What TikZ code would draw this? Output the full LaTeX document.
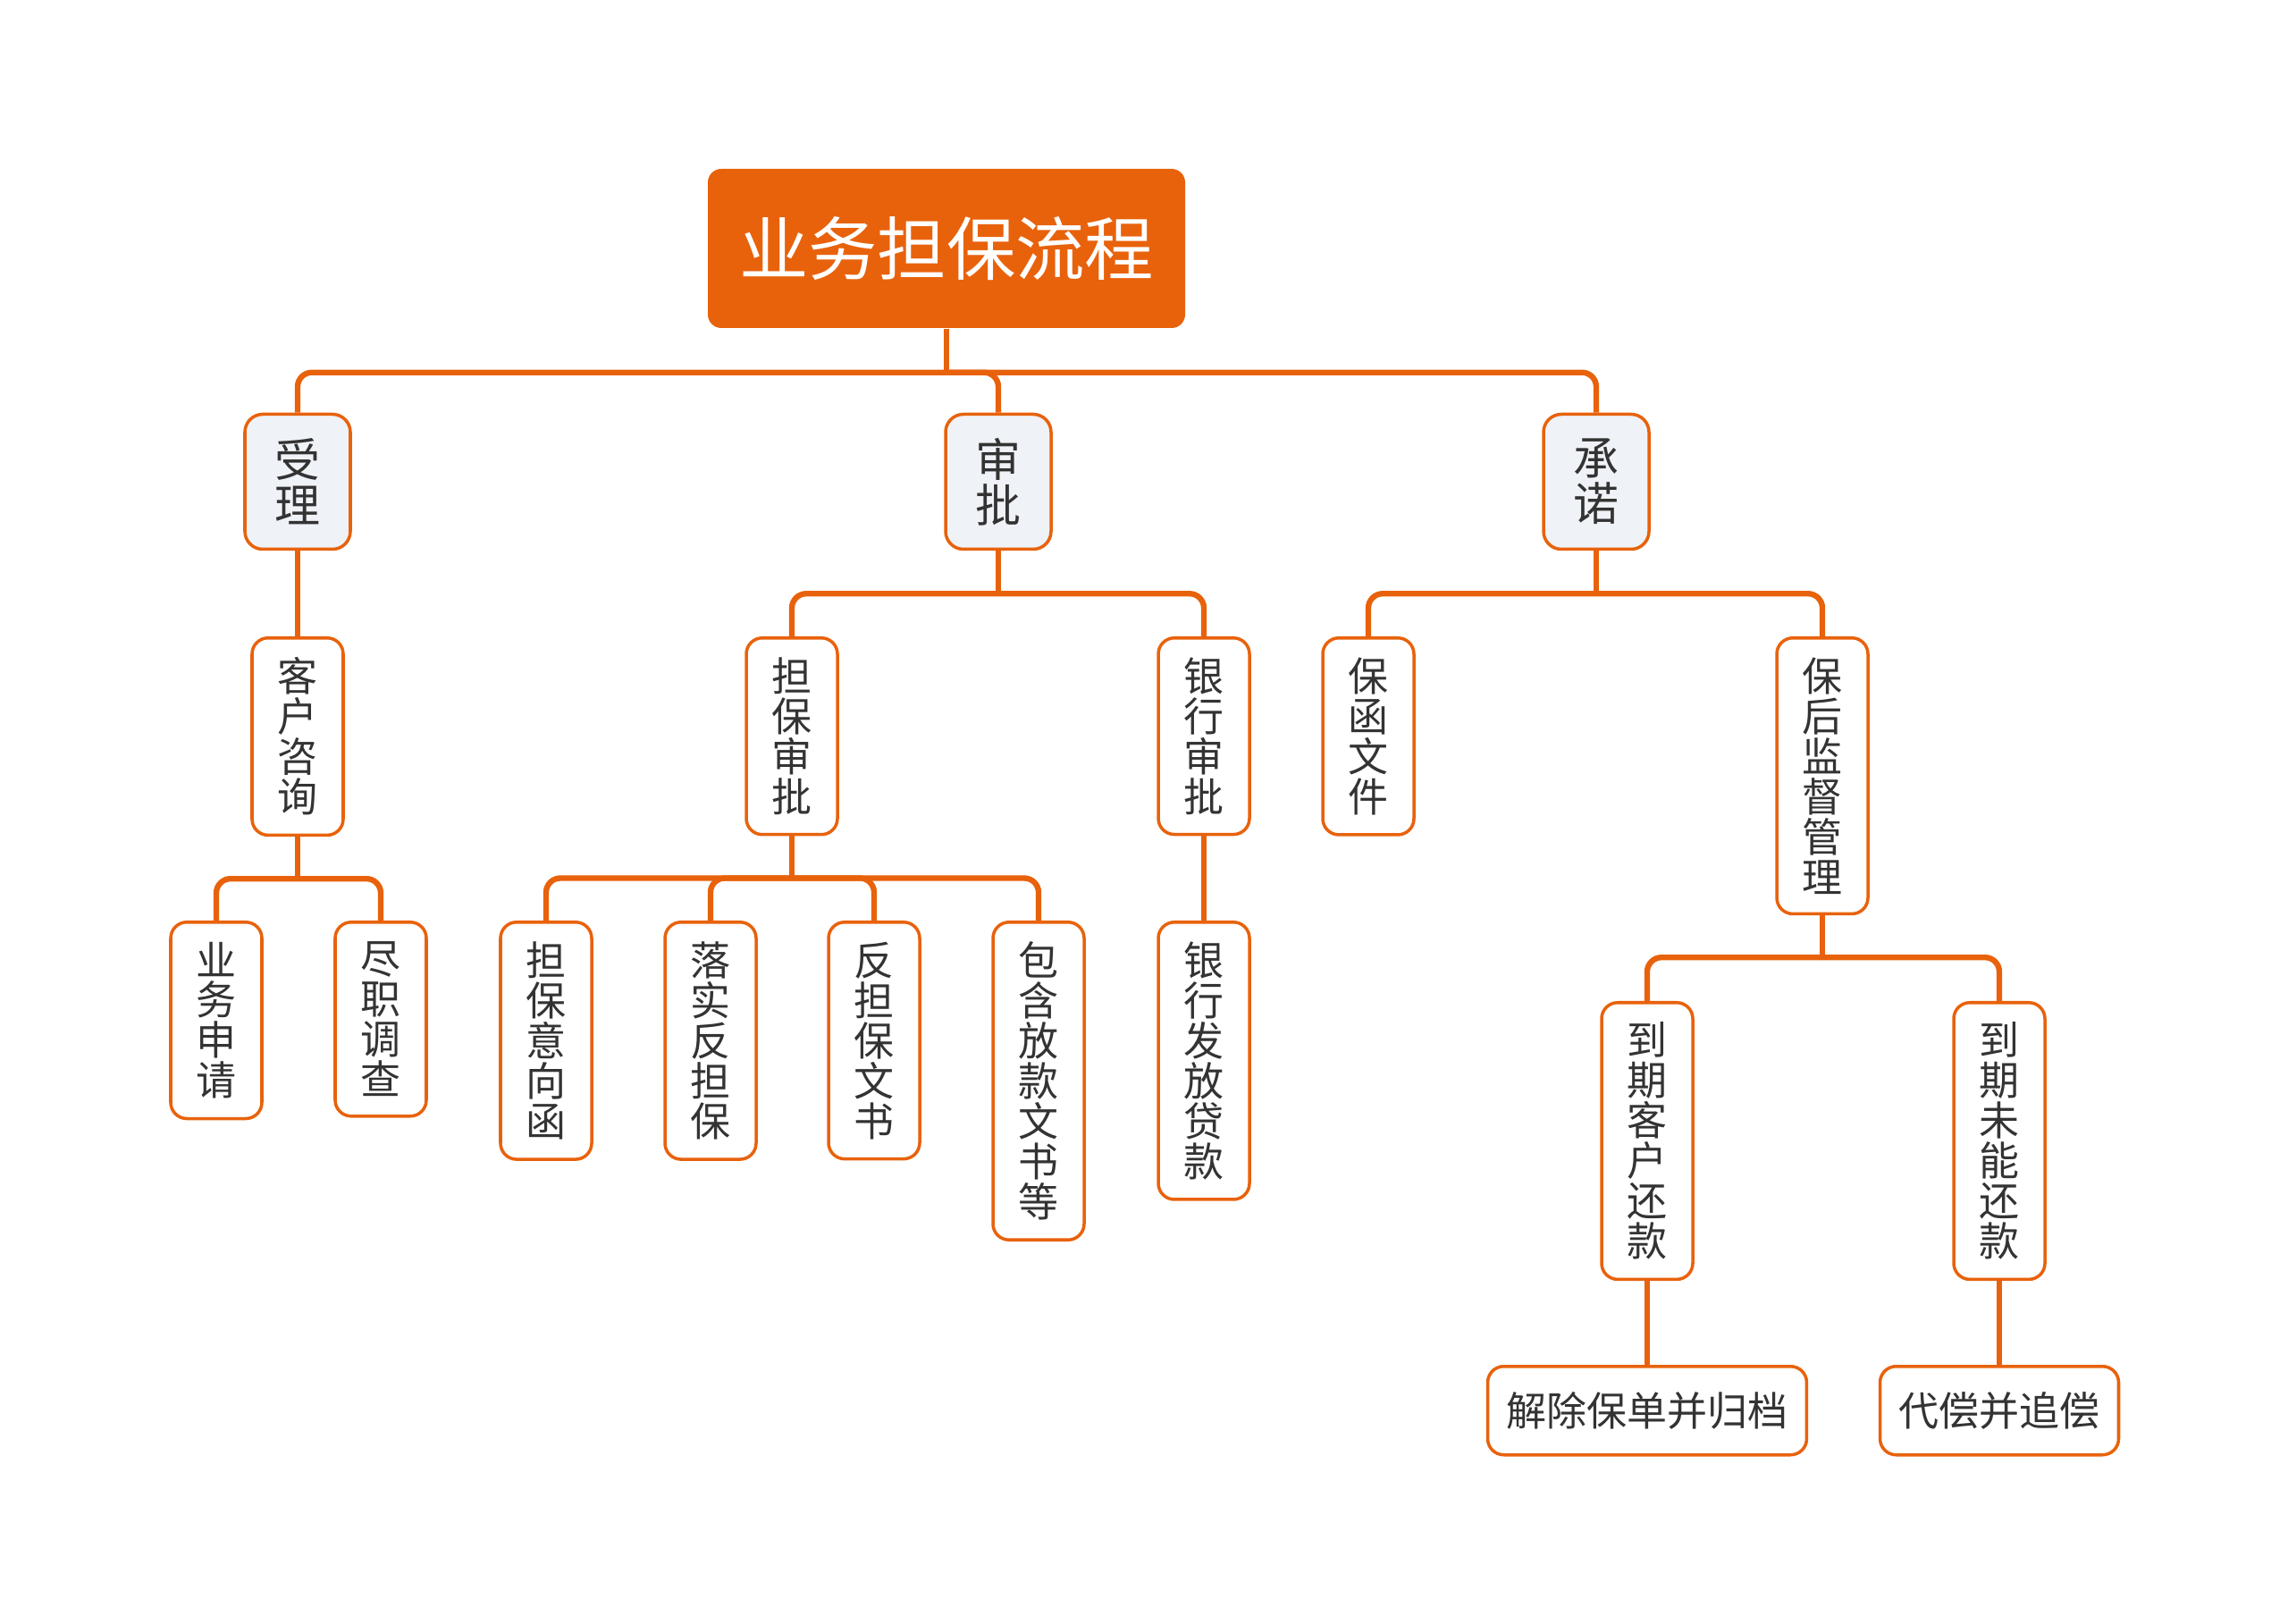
\documentclass[tikz,border=0pt]{standalone}
\usepackage{fontspec}
\usepackage{xcolor}
\usepackage{tikz}
\usetikzlibrary{positioning,calc}
\newfontfamily\cjk{Noto Sans CJK SC}
\definecolor{mmorange}{RGB}{232,98,12}
\definecolor{mmtext}{RGB}{51,51,51}
\definecolor{mmfill}{RGB}{239,242,246}

\begin{document}
\begin{tikzpicture}[
  every node/.style={font=\cjk\fontsize{12.8}{12.8}\selectfont,text=mmtext},
  topic/.style={fill=mmorange,rounded corners=0.15cm,minimum width=5.34cm,minimum height=1.78cm,text=white,font=\cjk\fontsize{22}{22}\selectfont},
  mainb/.style={draw=mmorange,fill=mmfill,line width=1pt,rounded corners=0.2cm,align=center,minimum width=1.18cm,minimum height=1.51cm,inner xsep=0pt,font=\cjk\fontsize{14.5}{14.5}\selectfont},
  sub/.style={draw=mmorange,fill=white,line width=1pt,rounded corners=0.18cm,align=center,minimum width=1.02cm,inner xsep=0pt,inner ysep=0.22cm,anchor=north},
  leaf/.style={sub,minimum height=0.99cm,inner xsep=0.21cm,inner ysep=0pt},
  ln/.style={mmorange,line width=1.8pt,rounded corners=0.16cm}]
\useasboundingbox (0,0) rectangle (25.6,-18.17);
% root and first level
\node[topic] (flow) at (10.59,-2.78) {业务担保流程};
\node[mainb] (shouli) at (3.33,-5.39) {受\\理};
\node[mainb] (shenpi) at (11.17,-5.39) {审\\批};
\node[mainb] (chengnuo) at (17.86,-5.39) {承\\诺};
% second level
\node[sub] (zixun) at (3.33,-7.12) {客\\户\\咨\\询};
\node[sub] (dbsp) at (8.86,-7.12) {担\\保\\审\\批};
\node[sub] (yhsp) at (13.47,-7.12) {银\\行\\审\\批};
\node[sub] (bhwj) at (15.31,-7.12) {保\\函\\文\\件};
\node[sub] (bhjd) at (20.39,-7.12) {保\\后\\监\\督\\管\\理};
% third level
\node[sub] (ywsq) at (2.42,-10.30) {业\\务\\申\\请};
\node[sub] (jzdc) at (4.26,-10.30) {尽\\职\\调\\查};
\node[sub] (yxh) at (6.11,-10.30) {担\\保\\意\\向\\函};
\node[sub] (lsfdb) at (7.95,-10.30) {落\\实\\反\\担\\保};
\node[sub] (fdbws) at (9.78,-10.30) {反\\担\\保\\文\\书};
\node[sub] (fkws) at (11.62,-10.30) {包\\含\\放\\款\\文\\书\\等};
\node[sub] (yhff) at (13.47,-10.30) {银\\行\\发\\放\\贷\\款};
\node[sub] (khhk) at (18.43,-11.20) {到\\期\\客\\户\\还\\款};
\node[sub] (wnhk) at (22.37,-11.20) {到\\期\\未\\能\\还\\款};
% last level
\node[leaf] (jcbd) at (18.43,-15.27) {解除保单并归档};
\node[leaf] (dcbc) at (22.37,-15.27) {代偿并追偿};
% connectors
\coordinate (j0) at ($(flow.south)+(0,-0.49)$);
\coordinate (j1) at ($(shenpi.south)+(0,-0.48)$);
\coordinate (j2) at ($(chengnuo.south)+(0,-0.48)$);
\coordinate (j3) at ($(zixun.south)+(0,-0.47)$);
\coordinate (j4) at ($(dbsp.south)+(0,-0.47)$);
\coordinate (j5) at ($(bhjd.south)+(0,-0.47)$);
\draw[ln] (flow.south) -- (j0);
\foreach \k in {shouli,shenpi,chengnuo} \draw[ln] (j0) -| (\k.north);
\draw[ln] (shenpi.south) -- (j1);
\foreach \k in {dbsp,yhsp} \draw[ln] (j1) -| (\k.north);
\draw[ln] (chengnuo.south) -- (j2);
\foreach \k in {bhwj,bhjd} \draw[ln] (j2) -| (\k.north);
\draw[ln] (shouli.south) -- (zixun.north);
\draw[ln] (zixun.south) -- (j3);
\foreach \k in {ywsq,jzdc} \draw[ln] (j3) -| (\k.north);
\draw[ln] (dbsp.south) -- (j4);
\foreach \k in {yxh,lsfdb,fdbws,fkws} \draw[ln] (j4) -| (\k.north);
\draw[ln] (yhsp.south) -- (yhff.north);
\draw[ln] (bhjd.south) -- (j5);
\foreach \k in {khhk,wnhk} \draw[ln] (j5) -| (\k.north);
\draw[ln] (khhk.south) -- (jcbd.north);
\draw[ln] (wnhk.south) -- (dcbc.north);
\end{tikzpicture}
\end{document}
